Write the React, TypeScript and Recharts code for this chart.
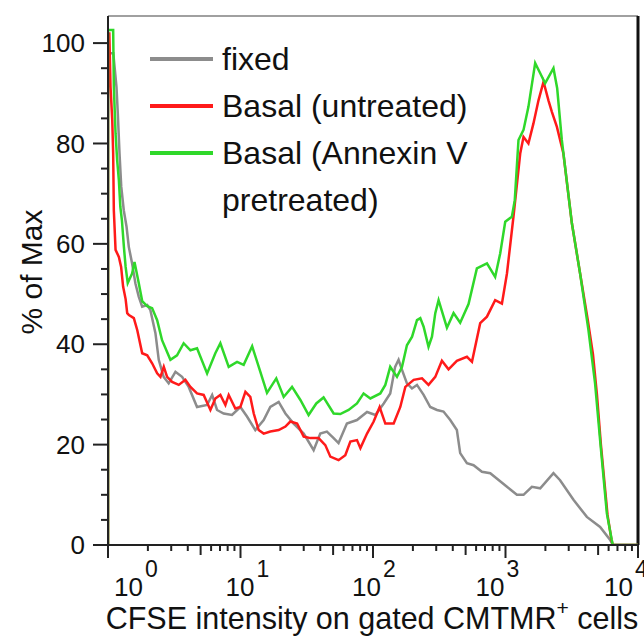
import { LineChart, Line, XAxis, YAxis, ReferenceLine } from "recharts";

const FONT = '"Liberation Sans", Arial, Helvetica, sans-serif';

// x axis: CFSE intensity, log scale
const decades = [1, 10, 100, 1000, 10000];
const decadePowers = ["0", "1", "2", "3", "4"];
const minorSteps = [2, 3, 4, 5, 6, 7, 8, 9];

// y axis: % of Max
const yTicks = [0, 5, 10, 15, 20, 25, 30, 35, 40, 45, 50, 55, 60, 65, 70, 75, 80, 85, 90, 95, 100];
const yMax = 105.4;

const seriesNames = ["fixed", "Basal (untreated)", "Basal (Annexin V pretreated)"];
const legendLines = [["fixed"], ["Basal (untreated)"], ["Basal (Annexin V", "pretreated)"]];
const seriesColors = ["#8c8c8c", "#ff1a1a", "#2fd82a"];

// [log10 intensity, % of max]
const fixedCurve = [
  [0, 0], [0, 98], [0.04, 98], [0.064, 91.3], [0.074, 86], [0.087, 78], [0.1, 71.4], [0.119, 66.7],
  [0.14, 63.4], [0.157, 59.4], [0.182, 56.1], [0.207, 52.1], [0.232, 49.5], [0.258, 47.5], [0.296, 47.8],
  [0.32, 46.8], [0.358, 42.2], [0.383, 36.9], [0.42, 33.5], [0.458, 32.2], [0.509, 34.5], [0.559, 33.5],
  [0.609, 31.5], [0.672, 27.5], [0.748, 27.9], [0.786, 29.9], [0.823, 26.9], [0.873, 26.2], [0.936, 25.9],
  [0.999, 27.5], [1.049, 25.6], [1.112, 22.9], [1.175, 24.9], [1.225, 27.5], [1.288, 28.5], [1.339, 26.2],
  [1.401, 24.2], [1.477, 22.2], [1.552, 18.9], [1.602, 22.2], [1.652, 22.6], [1.703, 21.3], [1.74, 20.3],
  [1.803, 24.2], [1.879, 24.9], [1.955, 26.5], [2.018, 25.9], [2.081, 28.2], [2.13, 30.2], [2.167, 35.5],
  [2.193, 36.9], [2.219, 34.9], [2.256, 32.2], [2.294, 31.2], [2.332, 31.9], [2.382, 29.9], [2.432, 27.5],
  [2.483, 26.9], [2.532, 26.6], [2.583, 24.9], [2.633, 22.9], [2.658, 18.3], [2.709, 16.3], [2.759, 15.9],
  [2.822, 14.6], [2.885, 14.3], [3.011, 11.6], [3.086, 10], [3.136, 10], [3.199, 11.6], [3.262, 11.3],
  [3.362, 14.3], [3.412, 12.9], [3.513, 9], [3.614, 5.6], [3.714, 3.6], [3.79, 1], [3.81, 0], [4, 0],
];

const basalCurve = [
  [0, 0], [0, 101.9], [0.01, 101.9], [0.019, 91.3], [0.032, 84.7], [0.039, 78], [0.044, 66.7], [0.057, 58.8],
  [0.082, 57.4], [0.099, 55.4], [0.114, 51.5], [0.133, 49], [0.145, 46.2], [0.158, 45.8], [0.195, 45.2],
  [0.221, 42.8], [0.258, 38.2], [0.296, 37.8], [0.333, 36.2], [0.371, 34.2], [0.396, 33.5], [0.421, 35.5],
  [0.446, 33.5], [0.484, 32.5], [0.534, 31.9], [0.584, 32.9], [0.622, 31.5], [0.672, 30.2], [0.722, 29.9],
  [0.773, 26.9], [0.81, 29.2], [0.848, 29.9], [0.886, 27.9], [0.911, 29.9], [0.961, 27.2], [0.999, 27.5],
  [1.037, 30.5], [1.074, 29.5], [1.1, 26.2], [1.137, 22.9], [1.175, 22.2], [1.225, 22.6], [1.288, 22.9],
  [1.339, 23.6], [1.376, 24.6], [1.427, 24.2], [1.477, 21.6], [1.527, 21.3], [1.589, 21.3], [1.64, 19.9],
  [1.678, 17.6], [1.74, 16.9], [1.791, 17.9], [1.829, 20.6], [1.879, 20.9], [1.905, 19.3], [1.955, 22.2],
  [2.005, 24.6], [2.05, 27.5], [2.093, 24.2], [2.156, 24.2], [2.206, 27.5], [2.244, 31.5], [2.307, 32.9],
  [2.37, 33.2], [2.419, 31.9], [2.47, 33.5], [2.52, 36.7], [2.57, 35], [2.633, 36.7], [2.709, 37.5],
  [2.747, 36.5], [2.809, 44.2], [2.86, 45.5], [2.922, 48.8], [2.973, 48.1], [3.011, 54.1], [3.06, 65.4],
  [3.111, 78], [3.136, 81.3], [3.173, 80], [3.211, 84], [3.249, 88.6], [3.287, 92.3], [3.324, 88.6],
  [3.35, 86.3], [3.388, 83.3], [3.437, 78], [3.501, 64.1], [3.563, 54.1], [3.62, 45], [3.66, 38],
  [3.69, 30], [3.72, 20], [3.77, 6], [3.8, 1], [3.81, 0], [4, 0],
];

const annexinCurve = [
  [0, 0], [0, 102.6], [0.039, 102.6], [0.044, 91.3], [0.057, 82], [0.069, 76.7], [0.082, 72.7], [0.093, 67.4],
  [0.105, 64.7], [0.12, 59.4], [0.133, 55.4], [0.149, 52.2], [0.182, 54.1], [0.2, 56.4], [0.232, 52.2],
  [0.258, 48.6], [0.296, 47.6], [0.333, 47.2], [0.371, 44.8], [0.408, 40.8], [0.471, 36.9], [0.521, 37.8],
  [0.571, 40.2], [0.622, 38.8], [0.672, 39.2], [0.748, 34.2], [0.81, 38.2], [0.848, 40.2], [0.911, 35.5],
  [0.974, 36.5], [1.024, 35.9], [1.088, 39.6], [1.145, 34.9], [1.2, 30.3], [1.27, 33.2], [1.326, 29.5],
  [1.389, 31.5], [1.452, 28.9], [1.514, 25.9], [1.572, 28.2], [1.627, 29.4], [1.703, 26.2], [1.753, 26.1],
  [1.816, 26.9], [1.879, 28.2], [1.929, 30.2], [1.98, 29.2], [2.055, 30.2], [2.093, 31.9], [2.13, 35.5],
  [2.181, 33.5], [2.219, 35.5], [2.256, 39.8], [2.295, 41.5], [2.332, 44.8], [2.357, 45.2], [2.382, 43.5],
  [2.419, 39.5], [2.445, 41.5], [2.47, 46.2], [2.495, 48.8], [2.558, 43.3], [2.608, 46.2], [2.658, 44.3],
  [2.721, 48], [2.784, 55.1], [2.86, 56.1], [2.922, 53.4], [2.96, 58.1], [2.998, 64.4], [3.048, 65.4],
  [3.07, 68.7], [3.098, 80.7], [3.136, 82.7], [3.173, 87.3], [3.224, 96], [3.262, 94], [3.299, 92],
  [3.362, 95], [3.39, 91], [3.425, 80.7], [3.501, 64.1], [3.563, 54.1], [3.626, 42.8], [3.676, 32.2],
  [3.714, 20.9], [3.765, 6.3], [3.802, 1], [3.81, 0], [4, 0],
];

const curves = [fixedCurve, basalCurve, annexinCurve];

const toRows = (curve: number[][]) => curve.map(([e, v]) => ({ x: Math.pow(10, e), y: v }));

const xTicks = decades
  .slice(0, -1)
  .flatMap((d) => [d, ...minorSteps.map((s) => s * d)])
  .concat(decades[decades.length - 1]);

// "10" labels in the original do not sit exactly under their ticks
const labelNudge = [6, -15, -21, -30, -34];

const XTick = (props: any) => {
  const { x, y, payload } = props;
  const v = payload.value;
  const idx = decades.indexOf(v);
  const lead = Math.round(v / Math.pow(10, Math.floor(Math.log10(v) + 1e-9)));
  const len = idx >= 0 ? 13 : lead === 5 ? 10 : 6;
  return (
    <g>
      <line x1={x} x2={x} y1={y} y2={y + len} stroke="#222" strokeWidth={2} />
      {idx >= 0 && (
        <text x={x + labelNudge[idx]} y={y + 51} fontSize={26} fill="#111" fontFamily={FONT}>
          10
          <tspan dx={2} dy={-19} fontSize={23}>
            {decadePowers[idx]}
          </tspan>
        </text>
      )}
    </g>
  );
};

const YTick = (props: any) => {
  const { x, y, payload } = props;
  const major = payload.value % 20 === 0;
  return (
    <g>
      <line x1={x - (major ? 15 : 7)} x2={x} y1={y} y2={y} stroke="#222" strokeWidth={2} />
      {major && (
        <text x={x - 23} y={y} dy="0.35em" textAnchor="end" fontSize={26} fill="#111" fontFamily={FONT}>
          {payload.value}
        </text>
      )}
    </g>
  );
};

const XTitle = (props: any) => {
  const vb = props.viewBox || {};
  const cx = vb.x + vb.width / 2 - 1;
  return (
    <text x={cx} y={629} textAnchor="middle" fontSize={30.5} fill="#111" fontFamily={FONT}>
      CFSE intensity on gated CMTMR
      <tspan dy={-14} fontSize={21}>+</tspan>
      <tspan dy={14}> cells</tspan>
    </text>
  );
};

const YTitle = () => (
  <text
    x={31}
    y={272}
    transform="rotate(-90 31 272)"
    textAnchor="middle"
    dominantBaseline="central"
    fontSize={30}
    fill="#111"
    fontFamily={FONT}
  >
    % of Max
  </text>
);

export default function App() {
  return (
    <div style={{ position: "absolute", left: 0, top: 0, width: 644, height: 642, background: "#fff" }}>
      <LineChart width={644} height={642} margin={{ top: 16, right: 6, bottom: 0, left: 0 }} style={{ fontFamily: FONT }}>
        <XAxis
          dataKey="x"
          type="number"
          scale="log"
          domain={[1, 10000]}
          allowDataOverflow
          ticks={xTicks}
          interval={0}
          tickSize={0}
          tickMargin={0}
          tickLine={false}
          tick={<XTick />}
          axisLine={{ stroke: "#222", strokeWidth: 2 }}
          height={97}
          label={{ content: XTitle }}
        />
        <YAxis
          type="number"
          domain={[0, yMax]}
          allowDataOverflow
          ticks={yTicks}
          interval={0}
          tickSize={0}
          tickMargin={0}
          tickLine={false}
          tick={<YTick />}
          axisLine={{ stroke: "#222", strokeWidth: 2 }}
          width={108}
          label={{ content: YTitle }}
        />
        <ReferenceLine y={yMax} stroke="#a0a0a0" strokeWidth={2} />
        <ReferenceLine x={10000} stroke="#111" strokeWidth={3} />
        {curves.map((c, i) => (
          <Line
            key={seriesNames[i]}
            name={seriesNames[i]}
            data={toRows(c)}
            dataKey="y"
            type="linear"
            stroke={seriesColors[i]}
            strokeWidth={2.5}
            dot={false}
            activeDot={false}
            isAnimationActive={false}
          />
        ))}
      </LineChart>
      <svg width={644} height={642} style={{ position: "absolute", left: 0, top: 0, pointerEvents: "none" }}>
        {legendLines.map((lines, i) => (
          <g key={i}>
            <line x1={150} x2={213} y1={59 + i * 47} y2={59 + i * 47} stroke={seriesColors[i]} strokeWidth={4} />
            <text x={222} y={70 + i * 47} fontSize={32} fill="#111" fontFamily={FONT}>
              {lines.map((t, j) => (
                <tspan key={j} x={222} dy={j ? 47 : 0}>
                  {t}
                </tspan>
              ))}
            </text>
          </g>
        ))}
      </svg>
    </div>
  );
}
